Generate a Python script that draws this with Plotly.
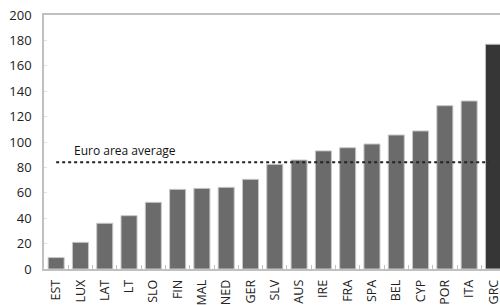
import plotly.graph_objects as go

countries = ["EST", "LUX", "LAT", "LT", "SLO", "FIN", "MAL", "NED", "GER", "SLV",
             "AUS", "IRE", "FRA", "SPA", "BEL", "CYP", "POR", "ITA", "GRC"]
values = [9, 21, 36, 42, 52.5, 62.7, 63.5, 64.3, 70.6, 82.4,
          85.8, 93, 95.5, 98.4, 105.5, 108.7, 128.6, 132.3, 177]
euro_avg = 84
avg_label = "Euro area average"
y_ticks = [0, 20, 40, 60, 80, 100, 120, 140, 160, 180, 200]

colors = ["#6b6b6b"] * (len(countries) - 1) + ["#363636"]

fig = go.Figure()
fig.add_trace(go.Bar(
    x=countries, y=values,
    marker=dict(color=colors, line=dict(color="#c8c8c8", width=1)),
    showlegend=False, hoverinfo="skip",
))

fig.add_shape(type="line", xref="x", yref="y", x0=0, x1=17.8, y0=euro_avg, y1=euro_avg,
              line=dict(color="#222222", width=2, dash="dot"))
fig.add_annotation(x=0.65, y=euro_avg, xref="x", yref="y", text=avg_label,
                   showarrow=False, xanchor="left", yanchor="bottom", yshift=1,
                   font=dict(family="Open Sans", size=12, color="#111111"))

fig.update_layout(
    width=500, height=305,
    margin=dict(l=44, r=0, t=15, b=36),
    plot_bgcolor="white", paper_bgcolor="white",
    bargap=0.34,
    font=dict(family="Open Sans", size=13, color="#222222"),
)
fig.update_xaxes(
    range=[-0.5, 18.27], tickangle=-90,
    showline=True, linecolor="#c0c0c0", linewidth=1.5, mirror=True,
    ticks="inside", tickson="boundaries", ticklen=4, tickcolor="#c0c0c0",
    showgrid=False, ticklabelstandoff=4, automargin=False,
    tickfont=dict(size=12.5),
)
fig.update_yaxes(
    range=[0, 200], tickvals=y_ticks,
    showline=True, linecolor="#c0c0c0", linewidth=1.5,
    ticks="inside", ticklen=3, tickcolor="#e0e0e0",
    showgrid=False, zeroline=False, ticklabelstandoff=8, automargin=False,
    tickfont=dict(size=13),
)

fig.write_html("out.html", config={"displayModeBar": False},
               post_script="document.body.style.margin='0';document.body.style.overflow='hidden';")
